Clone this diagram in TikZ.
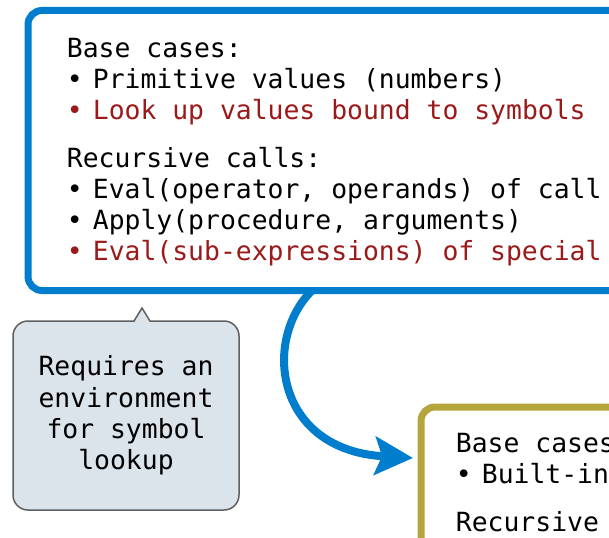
\documentclass[tikz,border=0pt]{standalone}
\usepackage{fontspec}
\setmonofont{DejaVu Sans Mono}
\usetikzlibrary{calc,arrows.meta}
\definecolor{evalblue}{RGB}{0,125,205}
\definecolor{applyolive}{RGB}{180,165,60}
\definecolor{specialred}{RGB}{155,25,25}
\definecolor{notefill}{RGB}{220,228,235}
\definecolor{noteline}{RGB}{95,95,95}
\newcommand{\itm}{\makebox[26pt][l]{\textbullet}}
\tikzset{
	evalbox/.style={draw=evalblue, line width=7pt, rounded corners=14pt, anchor=north west,
		inner sep=0pt, outer sep=0pt, minimum width=620pt, minimum height=280pt},
	applybox/.style={draw=applyolive, line width=7pt, rounded corners=14pt, anchor=north west,
		inner sep=0pt, outer sep=0pt, minimum width=300pt, minimum height=200pt},
	listtext/.style={anchor=north west, inner sep=0pt, align=left,
		font=\fontsize{26.4}{31.2}\selectfont\ttfamily},
	notebox/.style={draw=noteline, fill=notefill, line width=1.5pt, rounded corners=15pt,
		outer sep=0pt, minimum width=226pt, minimum height=189pt, align=center,
		font=\fontsize{26.4}{31.2}\selectfont\ttfamily},
	callarrow/.style={draw=evalblue, line width=8pt, -{Stealth[length=38pt, width=38pt, inset=7pt]}}
}

\begin{document}
\begin{tikzpicture}[x=1pt, y=-1pt]
		%%%%% START %%%%%
		\useasboundingbox (0, 0) rectangle (609, 537);
		\clip (0, 0) rectangle (609, 537);
		
		% eval box
		\node[evalbox] (evalbox) at (28, 10.5) {};
		\node[listtext] (evaltext) at (66.7, 37.8) {Base cases:\\
			\itm Primitive values (numbers)\\
			\textcolor{specialred}{\itm Look up values bound to symbols}\\[16.5pt]
			Recursive calls:\\
			\itm Eval(operator, operands) of call\\
			\itm Apply(procedure, arguments)\\
			\textcolor{specialred}{\itm Eval(sub-expressions) of special}};
		
		% apply box
		\node[applybox] (applybox) at (421, 407) {};
		\node[listtext] (applytext) at (455.7, 433.2) {Base cases\\
			\itm Built-in\\[16pt]
			Recursive};
		
		% note
		\node[notebox] (note) at (126, 415.5) {Requires an\\environment\\for symbol\\lookup};
		\fill[notefill] ($(note.north)+(8.5, 0.8)$) -- ($(note.north)+(16, -13)$) -- ($(note.north)+(23.5, 0.8)$) -- cycle;
		\draw[noteline, line width=1.5pt] ($(note.north)+(8, 0)$) -- ($(note.north)+(16, -13)$) -- ($(note.north)+(24, 0)$);
		
		% arrow
		\coordinate (evalout) at ($(evalbox.south west)+(284, 0)$);
		\coordinate (applyin) at ($(applybox.north west)+(-8, 51)$);
		\draw[callarrow] (evalout) .. controls (262, 340) and (275, 450) .. (applyin);
		
		%%%%% END %%%%%
	\end{tikzpicture}
\end{document}
